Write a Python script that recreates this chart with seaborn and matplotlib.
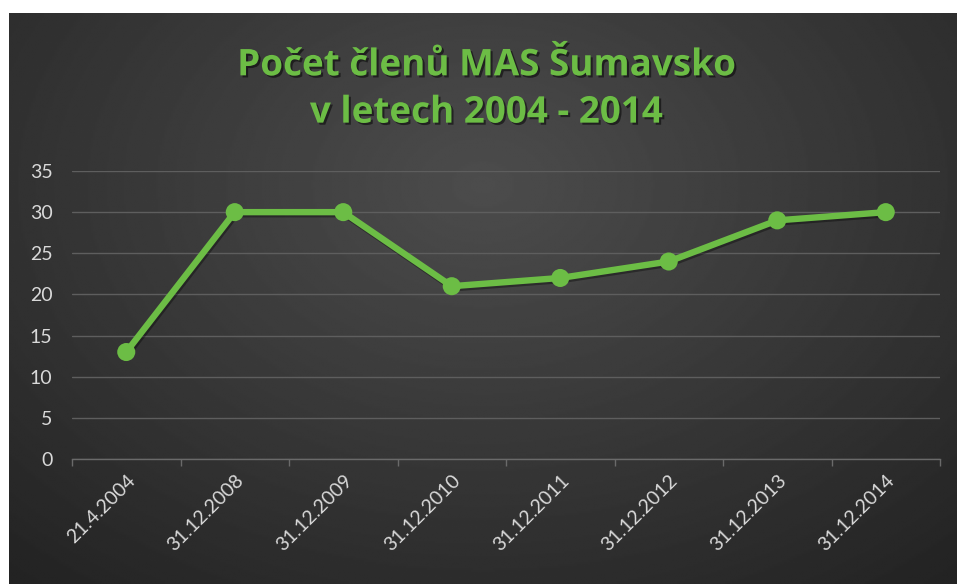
import numpy as np
import pandas as pd
import matplotlib
matplotlib.use("Agg")
import matplotlib.pyplot as plt
import matplotlib.patheffects as pe
from matplotlib.ticker import MultipleLocator, FixedLocator
import seaborn as sns

dates = ["21.4.2004", "31.12.2008", "31.12.2009", "31.12.2010",
         "31.12.2011", "31.12.2012", "31.12.2013", "31.12.2014"]
members = [13, 30, 30, 21, 22, 24, 29, 30]

df = pd.DataFrame({"datum": dates, "clenove": members})

sns.set_theme(style="dark")
plt.rcParams["font.family"] = ["Lato", "DejaVu Sans"]

W, H = 957, 584
fig = plt.figure(figsize=(W / 100, H / 100), dpi=100, facecolor="white")

# tmave pozadi s radialnim prechodem
bg_left, bg_top = 9 / W, 13 / H
bg = fig.add_axes([bg_left, 0, 1 - bg_left, 1 - bg_top], zorder=0)
yy, xx = np.mgrid[0:1:300j, 0:1:500j]
r = np.sqrt(((xx - 0.5) / 0.75) ** 2 + ((yy - 0.3) / 0.9) ** 2)
r = np.clip(r, 0, 1)
shade = 0.30 - 0.16 * r
bg.imshow(shade, cmap="gray", vmin=0, vmax=1, aspect="auto",
          extent=[0, 1, 1, 0], interpolation="bilinear")
bg.set_axis_off()

ax = fig.add_axes([72 / W, 1 - 459 / H, 868 / W, 288 / H], zorder=1)
ax.patch.set_alpha(0)

green = "#6cbd45"
sns.lineplot(data=df, x="datum", y="clenove", ax=ax, sort=False,
             color=green, linewidth=4.6, marker="o", markersize=13,
             markeredgecolor=green, markeredgewidth=0)
line = ax.lines[0]
line.set_path_effects([pe.SimpleLineShadow(offset=(1, -1.5), shadow_color="black", alpha=0.35),
                       pe.Normal()])

ax.set_xlim(-0.5, len(dates) - 0.5)
ax.set_ylim(0, 35)
ax.yaxis.set_major_locator(MultipleLocator(5))
ax.grid(axis="y", color="#5e5e5e", linewidth=1)
ax.grid(axis="x", visible=False)
for s in ["top", "right", "left"]:
    ax.spines[s].set_visible(False)
ax.spines["bottom"].set_color("#6a6a6a")
ax.spines["bottom"].set_linewidth(1)

ax.set_xticks(range(len(dates)))
ax.set_xticklabels(dates, rotation=45, ha="right", rotation_mode="anchor")
ax.xaxis.set_minor_locator(FixedLocator(np.arange(-0.5, len(dates), 1.0)))
ax.tick_params(axis="x", which="major", length=0, pad=9, labelsize=14, labelcolor="#d9d9d9")
ax.tick_params(axis="x", which="minor", bottom=True, length=5, width=1, color="#6a6a6a")
ax.tick_params(axis="y", length=0, pad=14, labelsize=14, labelcolor="#d9d9d9")
ax.set_xlabel("")
ax.set_ylabel("")

fig.text(0.508, 1 - 89 / H, "Počet členů MAS Šumavsko\nv letech 2004 - 2014",
         ha="center", va="center", fontsize=26.5, fontweight="bold", color="#6cbd45",
         family=["Open Sans", "DejaVu Sans"], linespacing=1.32,
         path_effects=[pe.withSimplePatchShadow(offset=(1.5, -1.5), shadow_rgbFace="black", alpha=0.5)])

fig.savefig("out.png", dpi=100, facecolor="white")
